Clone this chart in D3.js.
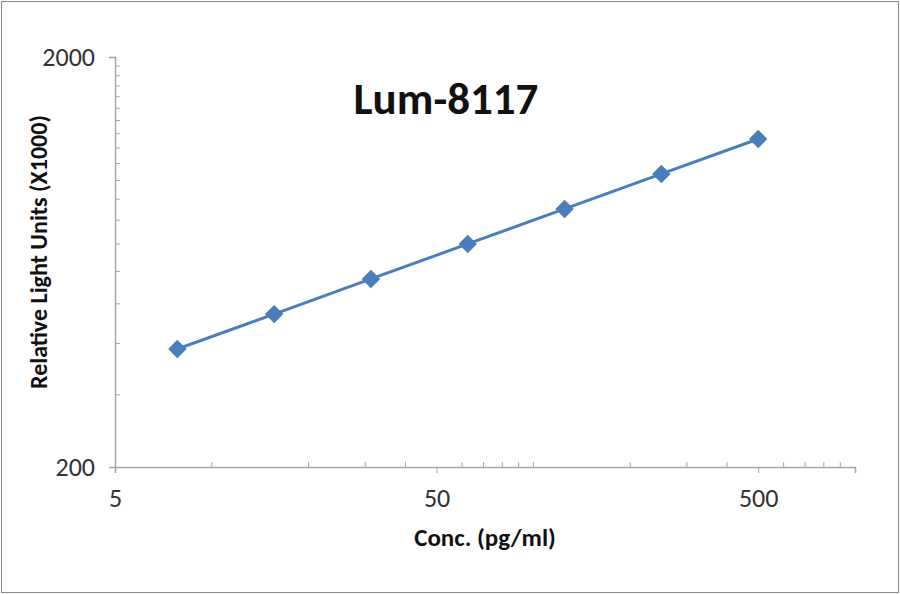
<!DOCTYPE html>
<html><head><meta charset="utf-8">
<script src="https://cdn.jsdelivr.net/npm/d3@7"></script>
<style>body{margin:0;background:#fff}text{font-family:Calibri,Carlito,"Open Sans",sans-serif}</style>
</head><body>
<svg width="900" height="594"></svg>
<script>
//Chart data
const conc = [7.8125, 15.625, 31.25, 62.5, 125, 250, 500];
const rlu = [388, 472, 575, 700, 852, 1037, 1262];
const xTicks = [5, 50, 500];
const yTicks = [200, 2000];

const svg = d3.select("svg");

//Outer border
svg.append("rect").attr("x", 1.5).attr("y", 1.5).attr("width", 897).attr("height", 591)
    .attr("fill", "none").attr("stroke", "#888");

const x = d3.scaleLog().domain([5, 1000]).range([115, 855]);
const y = d3.scaleLog().domain([200, 2000]).range([467, 57]);

const axisColor = "#a6a6a6";

//Minor ticks
const xMinor = [];
[10, 100].forEach(b => [1,2,3,4,6,7,8,9].forEach(m => { const v = b * m; if (v < 1000 && v !== 500 && v !== 50) xMinor.push(v); }));
const yMinor = [];
[3,4,5,6,7,8,9,10,11,12,13,14,15,16,17,18,19].forEach(m => yMinor.push(m * 100));

const xAxis = svg.append("g").attr("transform", `translate(0,${y(200)})`)
    .call(d3.axisBottom(x).tickValues(xTicks).tickFormat(d3.format("d")).tickSize(6).tickPadding(16));
const yAxis = svg.append("g").attr("transform", `translate(${x(5)},0)`)
    .call(d3.axisLeft(y).tickValues(yTicks).tickFormat(d3.format("d")).tickSize(6).tickPadding(14));
[xAxis, yAxis].forEach(a => {
    a.select(".domain").attr("stroke", axisColor).attr("stroke-width", 1.5);
    a.selectAll(".tick line").attr("stroke", axisColor);
    a.selectAll(".tick text").attr("font-size", "26px").attr("fill", "#333");
});

svg.append("g").selectAll("line").data(xMinor).enter().append("line")
    .attr("x1", d => x(d)).attr("x2", d => x(d)).attr("y1", y(200)).attr("y2", y(200) - 5)
    .attr("stroke", axisColor);
svg.append("g").selectAll("line").data(yMinor).enter().append("line")
    .attr("x1", x(5)).attr("x2", x(5) + 5).attr("y1", d => y(d)).attr("y2", d => y(d))
    .attr("stroke", axisColor);

//Line and markers
const pts = conc.map((c, i) => [x(c), y(rlu[i])]);
svg.append("path").attr("d", d3.line()(pts)).attr("fill", "none")
    .attr("stroke", "#4a7ebb").attr("stroke-width", 3);
svg.selectAll(".pt").data(pts).enter().append("path")
    .attr("transform", d => `translate(${d[0]},${d[1]}) rotate(45)`)
    .attr("d", d3.symbol().type(d3.symbolSquare).size(170))
    .attr("fill", "#4a7ebb");

//Titles
svg.append("text").attr("x", 446).attr("y", 114).attr("text-anchor", "middle")
    .attr("font-size", "45px").attr("font-weight", "bold").attr("fill", "#111").text("Lum-8117");
svg.append("text").attr("x", 485).attr("y", 546).attr("text-anchor", "middle")
    .attr("font-size", "25px").attr("font-weight", "bold").attr("fill", "#111").text("Conc. (pg/ml)");
svg.append("text").attr("transform", "translate(47,252) rotate(-90)").attr("text-anchor", "middle")
    .attr("font-size", "24px").attr("font-weight", "bold").attr("fill", "#111").text("Relative Light Units (X1000)");
</script>
</body></html>
